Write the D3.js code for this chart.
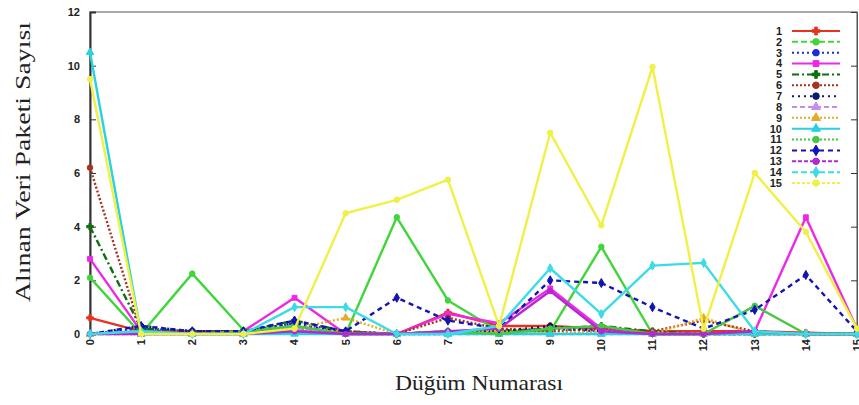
<!DOCTYPE html>
<html>
<head>
<meta charset="utf-8">
<script src="https://cdn.jsdelivr.net/npm/d3@7"></script>
<style>
  html, body { margin: 0; padding: 0; background: #fff; }
  svg { display: block; }
</style>
</head>
<body>
<svg id="chart" width="859" height="405"></svg>
<script>
// Node indices on the x axis
const nodes = [0, 1, 2, 3, 4, 5, 6, 7, 8, 9, 10, 11, 12, 13, 14, 15];
const yTicks = [0, 2, 4, 6, 8, 10, 12];
const seriesNames = ["1", "2", "3", "4", "5", "6", "7", "8", "9", "10", "11", "12", "13", "14", "15"];

// Received packet counts per node, one array per series
const s1  = [0.6, 0.1, 0.1, 0.05, 0.1, 0.05, 0.0, 0.8, 0.3, 0.3, 0.2, 0.1, 0.1, 0.1, 0.05, 0.0];
const s2  = [2.1, 0.0, 2.25, 0.15, 0.1, 0.0, 4.35, 1.25, 0.1, 0.1, 3.25, 0.0, 0.0, 0.0, 0.0, 0.0];
const s3  = [0.0, 0.2, 0.1, 0.1, 0.4, 0.1, 0.0, 0.0, 0.1, 0.2, 0.1, 0.0, 0.0, 0.0, 0.0, 0.0];
const s4  = [2.8, 0.1, 0.1, 0.1, 1.35, 0.0, 0.0, 0.75, 0.4, 1.7, 0.2, 0.0, 0.0, 0.1, 4.35, 0.2];
const s5  = [4.0, 0.2, 0.1, 0.1, 0.5, 0.1, 0.0, 0.1, 0.1, 0.2, 0.3, 0.1, 0.0, 0.0, 0.0, 0.0];
const s6  = [6.2, 0.1, 0.1, 0.1, 0.2, 0.1, 0.0, 0.6, 0.2, 0.1, 0.2, 0.1, 0.5, 0.1, 0.0, 0.0];
const s7  = [0.0, 0.3, 0.1, 0.1, 0.4, 0.0, 0.0, 0.1, 0.1, 0.3, 0.1, 0.0, 0.0, 0.1, 0.0, 0.0];
const s8  = [0.0, 0.0, 0.0, 0.0, 0.2, 0.0, 0.0, 0.0, 0.0, 0.0, 0.0, 0.0, 0.0, 0.0, 0.0, 0.0];
const s9  = [0.0, 0.0, 0.0, 0.0, 0.2, 0.6, 0.0, 0.1, 0.1, 0.0, 0.1, 0.0, 0.6, 0.0, 0.0, 0.0];
const s10 = [10.5, 0.0, 0.0, 0.0, 0.0, 0.0, 0.0, 0.0, 0.0, 0.0, 0.0, 0.0, 0.0, 0.0, 0.0, 0.0];
const s11 = [0.0, 0.1, 0.0, 0.1, 0.3, 0.0, 0.0, 0.1, 0.0, 0.2, 0.3, 0.0, 0.0, 1.05, 0.0, 0.0];
const s12 = [0.0, 0.3, 0.1, 0.1, 0.5, 0.1, 1.35, 0.5, 0.2, 2.0, 1.9, 1.0, 0.2, 0.9, 2.2, 0.1];
const s13 = [0.0, 0.0, 0.0, 0.0, 0.1, 0.0, 0.0, 0.1, 0.2, 1.6, 0.1, 0.0, 0.0, 0.1, 0.0, 0.0];
const s14 = [0.0, 0.1, 0.0, 0.0, 1.0, 1.0, 0.0, 0.0, 0.3, 2.45, 0.75, 2.55, 2.65, 0.1, 0.0, 0.0];
const s15 = [9.5, 0.0, 0.0, 0.0, 0.2, 4.5, 5.0, 5.75, 0.3, 7.5, 4.05, 9.95, 0.2, 6.0, 3.8, 0.2];

const seriesValues = [s1, s2, s3, s4, s5, s6, s7, s8, s9, s10, s11, s12, s13, s14, s15];

// Line styles for each series: legend dash pattern, plotted dash pattern, marker
const styles = [
  { color: "#e8321e", dash: null,      plotDash: null,      symbol: d3.symbolCross },
  { color: "#40d63a", dash: "6,3",     plotDash: null,      symbol: d3.symbolCircle },
  { color: "#1e28e6", dash: "2,3",     plotDash: "2,3",     symbol: d3.symbolCircle },
  { color: "#ee28e6", dash: null,      plotDash: null,      symbol: d3.symbolSquare },
  { color: "#0f6e12", dash: "7,3,2,3", plotDash: "7,3,2,3", symbol: d3.symbolCross },
  { color: "#a8321e", dash: "2,2",     plotDash: "2,2",     symbol: d3.symbolCircle },
  { color: "#0c1a70", dash: "2,4",     plotDash: "2,4",     symbol: d3.symbolCircle },
  { color: "#c68cf0", dash: "5,3",     plotDash: "5,3",     symbol: d3.symbolTriangle },
  { color: "#e6aa28", dash: "2,2",     plotDash: "2,2",     symbol: d3.symbolTriangle },
  { color: "#28d2e0", dash: null,      plotDash: null,      symbol: d3.symbolTriangle },
  { color: "#46c846", dash: "2,2",     plotDash: null,      symbol: d3.symbolCircle },
  { color: "#1414b4", dash: "5,4",     plotDash: "5,4",     symbol: d3.symbolDiamond },
  { color: "#b428d2", dash: "4,2",     plotDash: null,      symbol: d3.symbolCircle },
  { color: "#3cdce6", dash: "6,3",     plotDash: null,      symbol: d3.symbolDiamond },
  { color: "#f0f046", dash: "3,2",     plotDash: null,      symbol: d3.symbolCircle }
];

const svg = d3.select("#chart");
const margin = { left: 90, right: 857, top: 12, bottom: 334 };

const x = d3.scaleLinear().domain([0, 15]).range([margin.left, margin.right]);
const y = d3.scaleLinear().domain([0, 12]).range([margin.bottom, margin.top]);

// Frame
svg.append("rect")
  .attr("x", margin.left).attr("y", margin.top)
  .attr("width", margin.right - margin.left)
  .attr("height", margin.bottom - margin.top)
  .attr("fill", "none").attr("stroke", "#555").attr("stroke-width", 1);

// Left axis with inward ticks
const leftAxis = d3.axisRight(y).tickValues(yTicks).tickSize(6).tickFormat("");
svg.append("g").attr("transform", `translate(${margin.left},0)`).call(leftAxis)
  .call(g => g.select(".domain").attr("stroke", "#333").attr("stroke-width", 2))
  .call(g => g.selectAll(".tick line").attr("stroke", "#333"));

// Right mirror ticks
const rightAxis = d3.axisLeft(y).tickValues(yTicks).tickSize(6).tickFormat("");
svg.append("g").attr("transform", `translate(${margin.right},0)`).call(rightAxis)
  .call(g => g.select(".domain").attr("stroke", "#555"))
  .call(g => g.selectAll(".tick line").attr("stroke", "#333"));

// Y tick labels
svg.append("g").selectAll("text").data(yTicks).join("text")
  .attr("x", margin.left - 10).attr("y", d => y(d))
  .attr("dy", "0.35em")
  .attr("text-anchor", "end")
  .attr("font-family", "Liberation Sans, Arial, sans-serif")
  .attr("font-weight", "bold").attr("font-size", 11)
  .attr("fill", "#222")
  .text(d => d);

// X tick labels, rotated
svg.append("g").selectAll("text").data(nodes).join("text")
  .attr("transform", d => `translate(${x(d)},${margin.bottom + 5}) rotate(-90)`)
  .attr("text-anchor", "end")
  .attr("dy", "0.35em")
  .attr("font-family", "Liberation Sans, Arial, sans-serif")
  .attr("font-weight", "bold").attr("font-size", 11)
  .attr("fill", "#222")
  .text(d => d);

// Series lines and markers
const line = d3.line().x((d, i) => x(nodes[i])).y(d => y(d));
const plot = svg.append("g");
seriesValues.forEach((vals, k) => {
  const st = styles[k];
  plot.append("path")
    .datum(vals)
    .attr("d", line)
    .attr("fill", "none")
    .attr("stroke", st.color)
    .attr("stroke-width", 2.4)
    .attr("stroke-dasharray", st.plotDash)
    .attr("stroke-linejoin", "round");
  plot.append("g").selectAll("path").data(vals).join("path")
    .attr("transform", (d, i) => `translate(${x(nodes[i])},${y(d)})`)
    .attr("d", d3.symbol().type(st.symbol).size(24))
    .attr("fill", st.color)
    .attr("stroke", st.color)
    .attr("stroke-width", 1);
});

// Legend
const legend = svg.append("g");
const legendY = d3.scaleLinear().domain([0, 14]).range([31, 183]);
seriesNames.forEach((name, k) => {
  const st = styles[k];
  const yy = legendY(k);
  legend.append("text")
    .attr("x", 782).attr("y", yy).attr("dy", "0.35em")
    .attr("text-anchor", "end")
    .attr("font-family", "Liberation Sans, Arial, sans-serif")
    .attr("font-weight", "bold").attr("font-size", 11)
    .attr("fill", "#222")
    .text(name);
  legend.append("line")
    .attr("x1", 792).attr("x2", 840).attr("y1", yy).attr("y2", yy)
    .attr("stroke", st.color).attr("stroke-width", 2)
    .attr("stroke-dasharray", st.dash);
  legend.append("path")
    .attr("transform", `translate(816,${yy})`)
    .attr("d", d3.symbol().type(st.symbol).size(34))
    .attr("fill", st.color).attr("stroke", st.color);
});

// Axis titles
svg.append("text")
  .attr("x", 479).attr("y", 390)
  .attr("text-anchor", "middle")
  .attr("font-family", "Liberation Serif, Times New Roman, serif")
  .attr("font-size", 22)
  .attr("fill", "#222")
  .attr("textLength", 168).attr("lengthAdjust", "spacingAndGlyphs")
  .text("Düğüm Numarası");

svg.append("text")
  .attr("transform", "translate(30,162) rotate(-90)")
  .attr("text-anchor", "middle")
  .attr("font-family", "Liberation Serif, Times New Roman, serif")
  .attr("font-size", 22)
  .attr("fill", "#222")
  .attr("textLength", 280).attr("lengthAdjust", "spacingAndGlyphs")
  .text("Alınan Veri Paketi Sayısı");
</script>
</body>
</html>
